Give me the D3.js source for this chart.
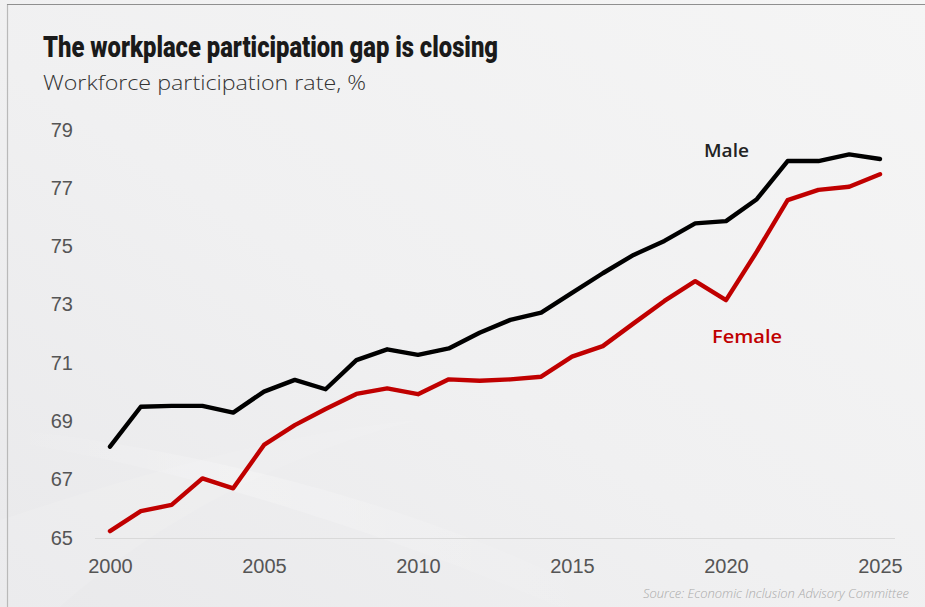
<!DOCTYPE html>
<html>
<head>
<meta charset="utf-8">
<script src="https://cdn.jsdelivr.net/npm/d3@7"></script>
<style>
  html, body { margin: 0; padding: 0; background: #f1f1f2; }
  svg { display: block; }
</style>
</head>
<body>
<svg id="chart" width="925" height="607"></svg>
<script>
const years = d3.range(2000, 2026);
const maleValues = [68.1, 69.47, 69.5, 69.5, 69.27, 69.99, 70.39, 70.07, 71.07, 71.44, 71.25, 71.47, 72.01,
  72.45, 72.7, 73.38, 74.05, 74.68, 75.16, 75.76, 75.84, 76.59, 77.9, 77.9, 78.13, 77.97];
const femaleValues = [65.2, 65.89, 66.1, 67.01, 66.67, 68.16, 68.84, 69.39, 69.91, 70.1, 69.9, 70.41, 70.36,
  70.41, 70.5, 71.19, 71.55, 72.33, 73.1, 73.78, 73.13, 74.79, 76.56, 76.91, 77.02, 77.45];
const yTicks = [65, 67, 69, 71, 73, 75, 77, 79];
const xTicks = [2000, 2005, 2010, 2015, 2020, 2025];
const titleText = "The workplace participation gap is closing";
const subtitleText = "Workforce participation rate, %";
const sourceText = "Source: Economic Inclusion Advisory Committee";

const svg = d3.select("#chart");
const W = 925, H = 607;

// Background
const defs = svg.append("defs");
const bg = defs.append("linearGradient").attr("id", "bg").attr("x1", 0).attr("y1", 1).attr("x2", 1).attr("y2", 0);
bg.append("stop").attr("offset", "0%").attr("stop-color", "#e9e9eb");
bg.append("stop").attr("offset", "45%").attr("stop-color", "#f0f0f1");
bg.append("stop").attr("offset", "100%").attr("stop-color", "#f5f5f5");
svg.append("rect").attr("width", W).attr("height", H).attr("fill", "url(#bg)");

const sw = defs.append("linearGradient").attr("id", "sw").attr("x1", 0).attr("y1", 0).attr("x2", 1).attr("y2", 0);
sw.append("stop").attr("offset", "0%").attr("stop-color", "#ffffff").attr("stop-opacity", 0);
sw.append("stop").attr("offset", "40%").attr("stop-color", "#ffffff").attr("stop-opacity", 0.22);
sw.append("stop").attr("offset", "100%").attr("stop-color", "#ffffff").attr("stop-opacity", 0);
svg.append("path")
  .attr("d", "M0,440 C200,470 400,540 560,607 L620,607 C470,525 250,455 0,428 Z")
  .attr("fill", "url(#sw)");
svg.append("path")
  .attr("d", "M0,520 C150,470 300,430 420,420 C330,440 180,500 60,607 L0,607 Z")
  .attr("fill", "#ffffff").attr("opacity", 0.1);

// Border
svg.append("line").attr("x1", 7.5).attr("x2", 7.5).attr("y1", 4).attr("y2", H).attr("stroke", "#b9b9b9").attr("stroke-width", 1.2);
svg.append("line").attr("x1", 7).attr("x2", W).attr("y1", 4.5).attr("y2", 4.5).attr("stroke", "#8f8f8f").attr("stroke-width", 1.2);

// Scales
const x = d3.scaleLinear().domain([2000, 2025]).range([110, 880]);
const y = d3.scaleLinear().domain([65, 79]).range([537, 129]);

// Baseline
svg.append("line").attr("x1", 95).attr("x2", 895).attr("y1", 538.5).attr("y2", 538.5)
  .attr("stroke", "#d9d9d9").attr("stroke-width", 1.2);

// Y axis
const yAxis = d3.axisLeft(y).tickValues(yTicks).tickSize(0).tickPadding(0);
const yg = svg.append("g").attr("transform", "translate(73,0)").call(yAxis);
yg.select(".domain").remove();
yg.selectAll("text").attr("font-family", "'Liberation Sans', Arial, sans-serif")
  .attr("font-size", 20).attr("fill", "#555").attr("dy", "0.35em");

// X axis
const xAxis = d3.axisBottom(x).tickValues(xTicks).tickFormat(d3.format("d")).tickSize(0).tickPadding(0);
const xg = svg.append("g").attr("transform", "translate(0,573)").call(xAxis);
xg.select(".domain").remove();
xg.selectAll("text").attr("font-family", "'Liberation Sans', Arial, sans-serif")
  .attr("font-size", 20).attr("fill", "#555").attr("dy", 0);

// Lines
const line = d3.line().x((d, i) => x(years[i])).y(d => y(d));
svg.append("path").datum(femaleValues).attr("d", line).attr("fill", "none")
  .attr("stroke", "#c00000").attr("stroke-width", 4.4).attr("stroke-linejoin", "round").attr("stroke-linecap", "round");
svg.append("path").datum(maleValues).attr("d", line).attr("fill", "none")
  .attr("stroke", "#000000").attr("stroke-width", 4.4).attr("stroke-linejoin", "round").attr("stroke-linecap", "round");

// Series labels
svg.append("text").attr("x", 704).attr("y", 157).text("Male")
  .attr("font-family", "'Open Sans', sans-serif").attr("font-weight", 600).attr("font-size", 18)
  .attr("fill", "#222").attr("textLength", 45).attr("lengthAdjust", "spacingAndGlyphs");
svg.append("text").attr("x", 712).attr("y", 343).text("Female")
  .attr("font-family", "'Open Sans', sans-serif").attr("font-weight", 600).attr("font-size", 18)
  .attr("fill", "#c00000").attr("textLength", 70).attr("lengthAdjust", "spacingAndGlyphs");

// Title
svg.append("text").attr("x", 43).attr("y", 57).text(titleText)
  .attr("font-family", "Roboto, sans-serif").attr("font-weight", 900).attr("font-size", 30)
  .attr("fill", "#1a1a1a").attr("textLength", 455).attr("lengthAdjust", "spacingAndGlyphs");
svg.append("text").attr("x", 43).attr("y", 90).text(subtitleText)
  .attr("font-family", "'Open Sans', sans-serif").attr("font-weight", 300).attr("font-size", 21)
  .attr("fill", "#333").attr("textLength", 323).attr("lengthAdjust", "spacingAndGlyphs");

// Source
svg.append("text").attr("x", 909).attr("y", 598).attr("text-anchor", "end").text(sourceText)
  .attr("font-family", "'Open Sans', sans-serif").attr("font-style", "italic").attr("font-weight", 300)
  .attr("font-size", 12).attr("fill", "#aaa").attr("textLength", 266).attr("lengthAdjust", "spacingAndGlyphs");
</script>
</body>
</html>
